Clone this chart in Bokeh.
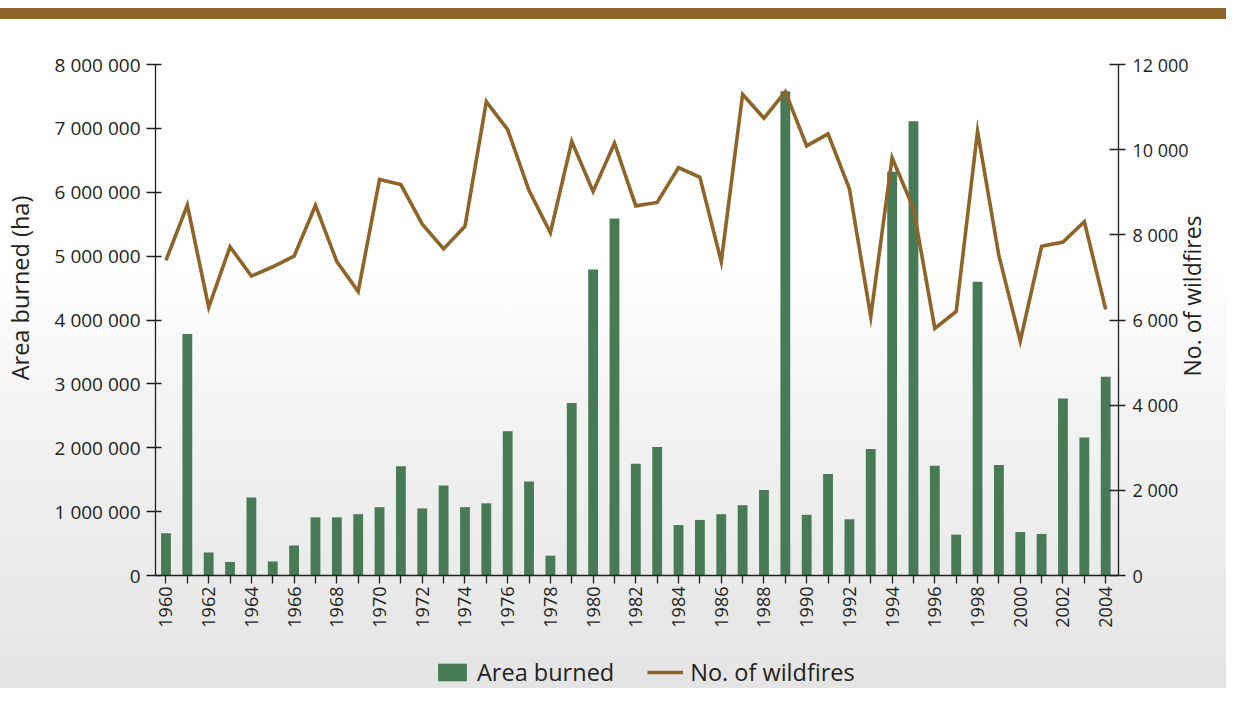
import math
from bokeh.plotting import figure
from bokeh.models import (Range1d, LinearAxis, FixedTicker, Legend, LegendItem,
                          ColumnDataSource, CustomJSTickFormatter)
from bokeh.embed import file_html
from bokeh.resources import INLINE

years = list(range(1960, 2005))
area_burned = [660000, 3780000, 360000, 210000, 1220000, 220000, 470000, 910000, 910000, 960000,
               1070000, 1710000, 1050000, 1410000, 1070000, 1130000, 2260000, 1470000, 310000, 2700000,
               4790000, 5590000, 1750000, 2010000, 790000, 870000, 960000, 1100000, 1340000, 7580000,
               950000, 1590000, 880000, 1980000, 6320000, 7110000, 1720000, 640000, 4600000, 1730000,
               680000, 650000, 2770000, 2160000, 3110000]
wildfires = [7400, 8700, 6300, 7720, 7030, 7250, 7500, 8690, 7370, 6670,
             9300, 9180, 8250, 7670, 8200, 11130, 10470, 9040, 8050, 10190,
             9020, 10150, 8680, 8760, 9580, 9350, 7370, 11300, 10740, 11360,
             10090, 10370, 9080, 6080, 9810, 8620, 5800, 6200, 10430, 7510,
             5510, 7730, 7830, 8310, 6250]
left_ticks = [0, 1000000, 2000000, 3000000, 4000000, 5000000, 6000000, 7000000, 8000000]
right_ticks = [0, 2000, 4000, 6000, 8000, 10000, 12000]

FONT = "Open Sans"
TXT = "#231F20"
BROWN = "#8E6428"
GREEN = "#477A55"
NB = "\u00a0"  # non-breaking spaces shift the left axis title along the axis

# the plotting frame runs to the bottom of the canvas; the value axes stop at zero and the
# year axis is pinned at zero, leaving room under it for the year labels and the legend
PAD = 113 / 511
src = ColumnDataSource(dict(year=years, area=area_burned, fires=wildfires))

p = figure(width=1226, height=688,
           x_range=Range1d(1959.51, 2004.6),
           y_range=Range1d(-PAD * left_ticks[-1], left_ticks[-1]),
           output_backend="svg", toolbar_location=None,
           min_border_left=152, min_border_right=105, min_border_top=64, min_border_bottom=0)
p.extra_y_ranges = {"fires": Range1d(-PAD * right_ticks[-1], right_ticks[-1])}
p.background_fill_alpha = 0
p.border_fill_alpha = 0
p.outline_line_color = None
p.xgrid.visible = False
p.ygrid.visible = False
p.styles = {"background-image":
            "linear-gradient(to bottom, #ffffff 0px, #ffffff 8px, #8E6428 8px, #8E6428 19px, "
            "#ffffff 19px, #ffffff 38%, #f3f3f3 60%, #e4e4e4 100%)"}

bars = p.vbar(x="year", top="area", width=0.46, source=src, fill_color=GREEN, line_color=None)
line = p.line(x="year", y="fires", source=src, y_range_name="fires", line_color=BROWN,
              line_width=3.6, line_join="miter")

def style_axis(ax):
    ax.axis_line_color = TXT
    ax.axis_line_width = 1.3
    ax.major_tick_line_color = TXT
    ax.major_tick_line_width = 1.3
    ax.minor_tick_line_color = None
    ax.major_label_text_font = FONT
    ax.major_label_text_font_size = "19px"
    ax.major_label_text_color = TXT
    ax.axis_label_text_font = FONT
    ax.axis_label_text_font_size = "23.5px"
    ax.axis_label_text_font_style = "normal"
    ax.axis_label_text_color = TXT

xa = p.xaxis[0]
style_axis(xa)
xa.fixed_location = 0
xa.ticker = FixedTicker(ticks=years)
xa.formatter = CustomJSTickFormatter(code="return (tick % 2 === 0) ? String(tick) : '';")
xa.major_label_orientation = math.pi / 2
xa.major_label_text_font_size = "18px"
xa.major_tick_in = 0
xa.major_tick_out = 8
xa.major_label_standoff = 3

ya = p.yaxis[0]
style_axis(ya)
ya.bounds = (left_ticks[0], left_ticks[-1])
ya.ticker = FixedTicker(ticks=left_ticks)
ya.formatter = CustomJSTickFormatter(
    code="return String(tick).replace(/\\B(?=(\\d{3})+(?!\\d))/g, ' ');")
ya.major_tick_in = 6
ya.major_tick_out = 9
ya.major_label_standoff = 6
ya.axis_label = NB * 29 + "Area burned (ha)"
ya.axis_label_standoff = 16

ra = LinearAxis(y_range_name="fires", axis_label="No. of wildfires")
style_axis(ra)
ra.bounds = (right_ticks[0], right_ticks[-1])
ra.ticker = FixedTicker(ticks=right_ticks)
ra.formatter = CustomJSTickFormatter(
    code="return String(tick).replace(/\\B(?=(\\d{3})+(?!\\d))/g, ' ');")
ra.major_label_text_font_size = "18px"
ra.major_tick_in = 9
ra.major_tick_out = 7
ra.major_label_standoff = 7
ra.axis_label_standoff = 0
ra.axis_label_text_font_size = "23px"
ra.axis_label_orientation = math.pi / 2
p.add_layout(ra, "right")

legend = Legend(items=[LegendItem(label="Area burned", renderers=[bars]),
                       LegendItem(label="No. of wildfires", renderers=[line])],
                orientation="horizontal", location=(279, 0),
                glyph_width=36, glyph_height=22, label_standoff=7, spacing=33,
                padding=0, margin=0, border_line_alpha=0, background_fill_alpha=0,
                label_text_font=FONT, label_text_font_size="23.5px", label_text_color=TXT)
p.add_layout(legend, "center")

open("out.html", "w").write(file_html(p, INLINE))
